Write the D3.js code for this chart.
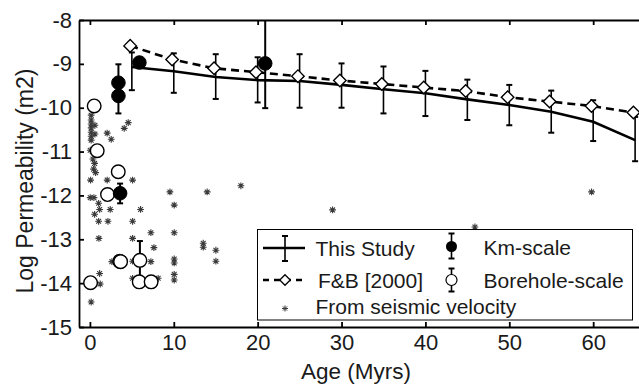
<!DOCTYPE html>
<html>
<head>
<meta charset="utf-8">
<script src="https://cdn.jsdelivr.net/npm/d3@7"></script>
<style>
  html, body { margin: 0; padding: 0; background: #fff; }
  svg { display: block; }
  text { font-family: "Liberation Sans", Arial, sans-serif; fill: #1a1a1a; }
</style>
</head>
<body>
<svg id="chart" width="639" height="385"></svg>
<script>
// ---------------- data ----------------
const xTicks = [0, 10, 20, 30, 40, 50, 60];
const yTicks = [-15, -14, -13, -12, -11, -10, -9, -8];

// This Study: age, mean, upper, lower
const studyAge   = [5, 10, 15, 20, 25, 30, 35, 40, 45, 50, 55, 60, 65];
const studyMean  = [-9.07, -9.17, -9.30, -9.37, -9.39, -9.48, -9.58, -9.67, -9.81, -9.94, -10.09, -10.32, -10.74];
const studyHigh  = [-8.74, -8.76, -8.78, -8.85, -8.78, -8.99, -9.06, -9.16, -9.36, -9.48, -9.61, -9.83, -10.21];
const studyLow   = [-9.60, -9.66, -9.80, -9.88, -10.00, -10.00, -10.13, -10.19, -10.28, -10.40, -10.57, -10.76, -11.22];

// Fisher & Becker [2000]
const fbAge   = [4.8, 9.8, 14.8, 19.8, 24.8, 29.8, 34.8, 39.8, 44.8, 49.8, 54.8, 59.8, 64.8];
const fbValue = [-8.59, -8.90, -9.10, -9.19, -9.28, -9.38, -9.46, -9.54, -9.62, -9.76, -9.86, -9.96, -10.11];

// Km-scale: age, value, upper, lower
const kmAge   = [3.4, 3.4, 3.6, 5.9, 20.9];
const kmValue = [-9.43, -9.73, -11.95, -8.97, -8.99];
const kmHigh  = [-9.01, -9.43, -11.73, -8.97, -7.5];
const kmLow   = [-9.73, -10.13, -12.18, -8.97, -10.01];

// Borehole-scale: age, value, upper, lower
const bhAge   = [0.51, 0.87, 3.38, 2.10, 3.55, 3.66, 5.96, 0.08, 5.88, 7.30];
const bhValue = [-9.96, -10.98, -11.46, -11.98, -13.50, -13.51, -13.48, -13.99, -13.97, -13.97];
const bhHigh  = [-9.96, -10.98, -11.46, -11.98, -13.50, -13.51, -13.04, -13.99, -13.97, -13.97];
const bhLow   = [-9.96, -10.98, -11.46, -11.98, -13.50, -13.51, -13.91, -13.99, -13.97, -13.97];

// From seismic velocity
const seisAge = [0.15, 0.15, 0.15, 0.15, 0.15, 0.15, 0.15, 0.6, 0.6, 2.06, 2.54, 4.09, 4.57,
  0.04, 0.36, 0.56, 0.44, 0.68, 0.08, 2.06, 5.09, 0.04, 0.48, 1.04, 1.16, 2.42, 0.56, 1.04, 2.15, 1.07,
  9.54, 13.98, 18.0, 28.93, 45.9, 59.81, 10.05, 6.04, 5.09, 7.27, 10.05, 5.09, 7.63, 5.09, 7.27,
  10.05, 10.05, 10.05, 10.05, 5.09, 8.14, 6.04, 2.62, 1.16, 1.23, 0.15, 13.51, 13.51, 15.02, 15.02];
const seisValue = [-10.17, -10.28, -10.37, -10.46, -10.56, -10.65, -10.74, -10.40, -10.60, -10.58, -10.72, -10.47, -10.34,
  -10.97, -11.17, -11.27, -11.40, -11.48, -11.65, -11.65, -11.65, -12.05, -12.05, -12.18, -12.32, -12.32, -12.43, -12.59, -12.59, -12.98,
  -11.92, -11.92, -11.78, -12.33, -12.72, -11.92, -12.22, -12.32, -12.59, -12.85, -12.85, -12.98, -13.19, -13.50, -13.51,
  -13.45, -13.54, -13.80, -13.93, -13.89, -13.89, -14.03, -13.51, -13.78, -14.02, -14.43, -13.09, -13.18, -13.25, -13.50];

const legendLabels = ["This Study", "F&B [2000]", "From seismic velocity", "Km-scale", "Borehole-scale"];

// ---------------- drawing ----------------
const svg = d3.select("#chart");
const plotLeft = 79, plotTop = 20, plotBottom = 327;
const x = d3.scaleLinear().domain([-1.3, 66]).range([plotLeft, 643.5]);
const y = d3.scaleLinear().domain([-15, -8]).range([plotBottom, plotTop]);

svg.append("defs").append("clipPath").attr("id", "clip")
  .append("rect").attr("x", plotLeft).attr("y", plotTop)
  .attr("width", 700).attr("height", plotBottom - plotTop);

const plot = svg.append("g").attr("clip-path", "url(#clip)");

// asterisk symbol path
function asterisk(cx, cy, r) {
  const d = r * 0.7071;
  return `M${cx - r},${cy}L${cx + r},${cy}M${cx},${cy - r}L${cx},${cy + r}` +
         `M${cx - d},${cy - d}L${cx + d},${cy + d}M${cx - d},${cy + d}L${cx + d},${cy - d}`;
}

// seismic stars
plot.append("g").selectAll("path").data(d3.range(seisAge.length)).join("path")
  .attr("d", i => asterisk(x(seisAge[i]), y(seisValue[i]), 3.4))
  .attr("stroke", "#3a3a3a").attr("stroke-width", 1.1).attr("fill", "none");

// error bar helper
function errBar(g, ax, hi, lo, capW, sw) {
  g.append("line").attr("x1", x(ax)).attr("x2", x(ax)).attr("y1", y(hi)).attr("y2", y(lo))
    .attr("stroke", "#000").attr("stroke-width", sw);
  [hi, lo].forEach(v => {
    g.append("line").attr("x1", x(ax) - capW).attr("x2", x(ax) + capW).attr("y1", y(v)).attr("y2", y(v))
      .attr("stroke", "#000").attr("stroke-width", 2);
  });
}

// This study error bars + line
const studyG = plot.append("g");
studyAge.forEach((a, i) => errBar(studyG, a, studyHigh[i], studyLow[i], 3, 1.6));
studyG.append("path")
  .datum(d3.range(studyAge.length))
  .attr("d", d3.line().x(i => x(studyAge[i])).y(i => y(studyMean[i])))
  .attr("fill", "none").attr("stroke", "#000").attr("stroke-width", 2.6);

// F&B dashed line + diamonds
const fbG = plot.append("g");
fbG.append("path")
  .datum(d3.range(fbAge.length))
  .attr("d", d3.line().x(i => x(fbAge[i])).y(i => y(fbValue[i])))
  .attr("fill", "none").attr("stroke", "#000").attr("stroke-width", 2.6)
  .attr("stroke-dasharray", "8,5");
const diamond = d3.symbol().type(d3.symbolDiamond2 || d3.symbolSquare).size(100);
fbG.selectAll("path.dia").data(d3.range(fbAge.length)).join("path").attr("class", "dia")
  .attr("d", diamond)
  .attr("transform", i => `translate(${x(fbAge[i])},${y(fbValue[i])})` + (d3.symbolDiamond2 ? "" : " rotate(45)"))
  .attr("fill", "#fff").attr("stroke", "#000").attr("stroke-width", 1.4);

// Borehole-scale
const bhG = plot.append("g");
bhAge.forEach((a, i) => { if (bhHigh[i] !== bhLow[i]) errBar(bhG, a, bhHigh[i], bhLow[i], 3, 2); });
bhG.selectAll("circle").data(d3.range(bhAge.length)).join("circle")
  .attr("cx", i => x(bhAge[i])).attr("cy", i => y(bhValue[i])).attr("r", 6.8)
  .attr("fill", "#fff").attr("stroke", "#000").attr("stroke-width", 1.4);

// Km-scale
const kmG = plot.append("g");
kmAge.forEach((a, i) => { if (kmHigh[i] !== kmLow[i]) errBar(kmG, a, kmHigh[i], kmLow[i], 3, 2); });
kmG.selectAll("circle").data(d3.range(kmAge.length)).join("circle")
  .attr("cx", i => x(kmAge[i])).attr("cy", i => y(kmValue[i])).attr("r", 6.8)
  .attr("fill", "#000").attr("stroke", "#000").attr("stroke-width", 1);

// axes
const fontSize = "22px";
const axB = svg.append("g").attr("transform", `translate(0,${plotBottom})`)
  .call(d3.axisBottom(x).tickValues(xTicks).tickSizeInner(-5).tickSizeOuter(0).tickPadding(7));
const axT = svg.append("g").attr("transform", `translate(0,${plotTop})`)
  .call(d3.axisTop(x).tickValues(xTicks).tickSizeInner(-5).tickSizeOuter(0).tickFormat(""));
const axL = svg.append("g").attr("transform", `translate(${plotLeft},0)`)
  .call(d3.axisLeft(y).tickValues(yTicks).tickSizeInner(-5).tickSizeOuter(0).tickPadding(7)
    .tickFormat(d => String(d)));
[axB, axT, axL].forEach(g => {
  g.select(".domain").attr("stroke", "#000").attr("stroke-width", 1.8);
  g.selectAll(".tick line").attr("stroke", "#000").attr("stroke-width", 1.8);
  g.selectAll(".tick text").style("font-size", fontSize).style("font-family", "Liberation Sans, Arial, sans-serif").attr("fill", "#1a1a1a");
});

// axis labels
svg.append("text").attr("x", 356).attr("y", 378.5).attr("text-anchor", "middle")
  .style("font-size", "22.5px").text("Age (Myrs)");
svg.append("text").attr("transform", "translate(33,181) rotate(-90)").attr("text-anchor", "middle")
  .style("font-size", "23px").text("Log Permeability (m2)");

// legend
const lg = svg.append("g");
lg.append("rect").attr("x", 257.5).attr("y", 229.5).attr("width", 375).attr("height", 90.5)
  .attr("fill", "#fff").attr("stroke", "#000").attr("stroke-width", 1);
const lfs = "21px";
// row 1: This Study
lg.append("line").attr("x1", 263).attr("x2", 305).attr("y1", 248).attr("y2", 248).attr("stroke", "#000").attr("stroke-width", 2.4);
lg.append("line").attr("x1", 285).attr("x2", 285).attr("y1", 236).attr("y2", 261).attr("stroke", "#000").attr("stroke-width", 1.6);
[236, 261].forEach(v => lg.append("line").attr("x1", 282).attr("x2", 288).attr("y1", v).attr("y2", v).attr("stroke", "#000").attr("stroke-width", 2));
lg.append("text").attr("x", 315.5).attr("y", 255.5).style("font-size", lfs).text(legendLabels[0]);
// row 2: F&B
lg.append("line").attr("x1", 263).attr("x2", 307).attr("y1", 280).attr("y2", 280).attr("stroke", "#000").attr("stroke-width", 2.4).attr("stroke-dasharray", "6,5");
lg.append("path").attr("d", d3.symbol().type(d3.symbolDiamond2 || d3.symbolSquare).size(70))
  .attr("transform", "translate(285,280)" + (d3.symbolDiamond2 ? "" : " rotate(45)"))
  .attr("fill", "#fff").attr("stroke", "#000").attr("stroke-width", 1.3);
lg.append("text").attr("x", 318).attr("y", 287.5).style("font-size", lfs).text(legendLabels[1]);
// row 3: seismic
lg.append("path").attr("d", asterisk(285, 308.5, 3)).attr("stroke", "#3a3a3a").attr("stroke-width", 1);
lg.append("text").attr("x", 315.5).attr("y", 313.5).style("font-size", lfs).text(legendLabels[2]);
// Km-scale
lg.append("line").attr("x1", 451.5).attr("x2", 451.5).attr("y1", 233.5).attr("y2", 258.5).attr("stroke", "#000").attr("stroke-width", 1.6);
[233.5, 258.5].forEach(v => lg.append("line").attr("x1", 448.5).attr("x2", 454.5).attr("y1", v).attr("y2", v).attr("stroke", "#000").attr("stroke-width", 2));
lg.append("circle").attr("cx", 451.5).attr("cy", 246.5).attr("r", 5.5).attr("fill", "#000");
lg.append("text").attr("x", 483.5).attr("y", 254.5).style("font-size", lfs).text(legendLabels[3]);
// Borehole-scale
lg.append("line").attr("x1", 451.5).attr("x2", 451.5).attr("y1", 268.5).attr("y2", 291.5).attr("stroke", "#000").attr("stroke-width", 1.6);
[268.5, 291.5].forEach(v => lg.append("line").attr("x1", 448.5).attr("x2", 454.5).attr("y1", v).attr("y2", v).attr("stroke", "#000").attr("stroke-width", 2));
lg.append("circle").attr("cx", 451.5).attr("cy", 280).attr("r", 5.5).attr("fill", "#fff").attr("stroke", "#000").attr("stroke-width", 1.2);
lg.append("text").attr("x", 483.5).attr("y", 287.5).style("font-size", lfs).text(legendLabels[4]);
</script>
</body>
</html>
